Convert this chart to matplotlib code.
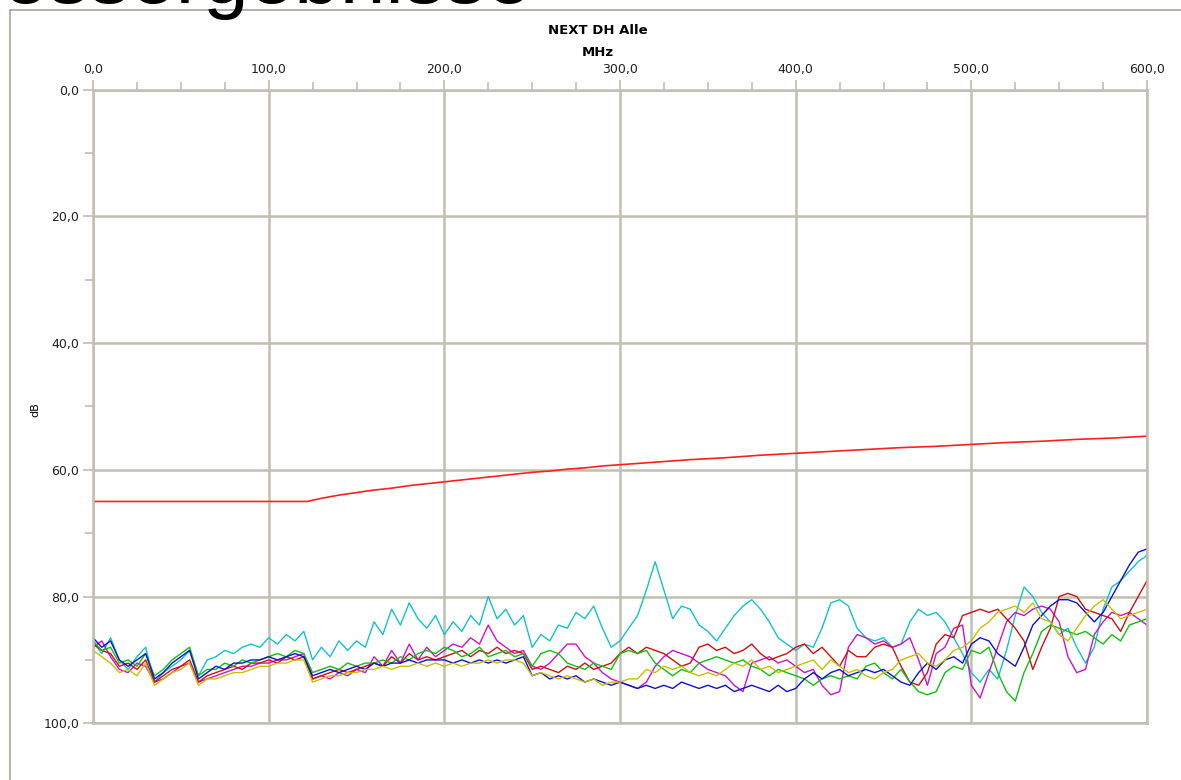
import numpy as np
import matplotlib
matplotlib.use("Agg")
import matplotlib.pyplot as plt
from matplotlib.ticker import MultipleLocator, FuncFormatter
from matplotlib.lines import Line2D

# ── data ────────────────────────────────────────────────────────────────────
freq = np.arange(0, 601, 5)   # MHz, one value every 5 MHz

cyan = [
    87, 89, 86.5, 90, 91.5, 89.5, 88, 93.5, 92, 91,
    90, 88.5, 92.5, 90, 89.5, 88.5, 89, 88, 87.5, 88,
    86.5, 87.5, 86, 87, 85.5, 90, 88, 89.5, 87, 88.5,
    87, 88, 84, 86, 82, 84.5, 81, 83.5, 85, 83,
    86, 84, 85.5, 83, 84.5, 80, 83.5, 82, 84.5, 83,
    88, 86, 87, 84.5, 85, 82.5, 83.5, 81.5, 85, 88,
    87, 85, 83, 79, 74.5, 79, 83.5, 81.5, 82, 84.5,
    85.5, 87, 85, 83, 81.5, 80.5, 82, 84, 86.5, 87.5,
    88.5, 87.5, 88, 85, 81, 80.5, 81.5, 85, 86.5, 87,
    86.5, 88, 87.5, 84, 82, 83, 82.5, 84, 86.5, 89,
    92, 93.5, 91.5, 93, 88.5, 83, 78.5, 80, 82.5, 84,
    86, 85, 88, 90.5, 88, 82, 78.5, 77.5, 76, 74.5,
    73.5,
]
blue = [
    86.5, 88, 87, 90, 91, 90, 89, 93, 92, 90.5,
    89.5, 88.5, 93, 92, 91, 91.5, 90.5, 90.5, 90, 90,
    89.5, 90, 89.5, 89, 89.5, 92.5, 92, 91.5, 92, 91.5,
    91, 91.5, 90.5, 91, 90.5, 90.5, 90, 90.5, 90, 90,
    90, 90.5, 90, 90.5, 90, 90.5, 90, 90.5, 90, 89.5,
    92.5, 92, 93, 92.5, 93, 92.5, 93.5, 93, 93.5, 94,
    93.5, 94, 94.5, 94, 94.5, 94, 94.5, 93.5, 94, 94.5,
    94, 94.5, 94, 95, 94.5, 94, 94.5, 95, 94, 95,
    94.5, 93, 92, 93, 92, 91.5, 92.5, 92, 91.5, 92,
    91.5, 92.5, 93.5, 94, 92, 90.5, 91.5, 90, 89.5, 90.5,
    87.5, 86.5, 87, 89, 90, 91, 88, 84.5, 83, 81.5,
    80.5, 80.5, 81, 82.5, 84, 82.5, 80, 77.5, 75, 73,
    72.5,
]
red = [
    87.5, 88.5, 89, 91, 90.5, 91.5, 90, 93.5, 92.5, 91.5,
    91, 90, 93.5, 92.5, 92, 91.5, 91, 91.5, 90.5, 90.5,
    90, 90.5, 89.5, 90, 89.5, 93, 92.5, 92, 91.5, 92,
    91.5, 91, 90.5, 91, 89.5, 90.5, 89, 90, 89.5, 90,
    89.5, 89, 88.5, 89.5, 88.5, 89, 88, 89, 88.5, 89,
    91.5, 91, 91.5, 92, 91, 91.5, 90.5, 91.5, 91, 90.5,
    89, 88, 89, 88, 88.5, 89, 90, 91, 90.5, 88,
    87.5, 88.5, 88, 89, 88.5, 87.5, 89, 90, 89.5, 89,
    88, 87.5, 89, 88, 89.5, 91, 88.5, 89.5, 89.5, 88,
    87.5, 88, 91, 93.5, 94, 92, 87.5, 86, 86.5, 83,
    82.5, 82, 82.5, 82, 83.5, 85, 87, 91.5, 88, 85,
    80, 79.5, 80, 82, 82.5, 83, 83.5, 85.5, 82.5, 80,
    77.5,
]
magenta = [
    88, 87, 89.5, 91.5, 92, 90.5, 91, 93.5, 93, 92,
    91, 90.5, 93.5, 93, 92.5, 92, 91.5, 91, 91, 90.5,
    90.5, 90, 90, 89.5, 89, 93, 92.5, 93, 92, 92.5,
    91.5, 92, 89.5, 91, 88.5, 90.5, 87.5, 90, 88, 89.5,
    88.5, 87.5, 88, 86.5, 87.5, 84.5, 87, 88, 89, 88.5,
    91, 91.5, 90.5, 89, 87.5, 87.5, 89.5, 90.5, 92, 93,
    93.5, 94, 94.5, 93.5, 91, 89.5, 88.5, 89, 89.5, 90.5,
    91.5, 92, 92.5, 94, 95, 90.5, 90, 89.5, 90.5, 90,
    91, 92, 91.5, 94, 95.5, 95, 88, 86, 86.5, 87.5,
    87, 88, 87.5, 86.5, 90, 94, 89, 88, 85, 84.5,
    94, 96, 92, 88, 84, 82.5, 83, 82, 81.5, 82,
    84, 89.5, 92, 91.5, 86, 84, 82.5, 83, 82.5, 83.5,
    84.5,
]
green = [
    87, 88.5, 88, 90.5, 90, 91, 89, 92.5, 91.5, 90,
    89, 88, 92.5, 91.5, 91.5, 90.5, 91, 90, 90.5, 90,
    89.5, 89, 89.5, 88.5, 89, 92, 91.5, 91, 91.5, 90.5,
    91, 90.5, 90.5, 90, 90.5, 89.5, 90, 89, 88.5, 89,
    88, 88.5, 89.5, 89, 88, 89.5, 89, 88.5, 89.5, 89,
    91, 89, 88.5, 89, 90.5, 91, 91.5, 90.5, 91, 91.5,
    89, 88.5, 89, 88.5, 90.5, 91.5, 92.5, 91.5, 92, 90.5,
    90, 89.5, 90, 90.5, 90, 91, 91.5, 92.5, 91.5, 92,
    92.5, 93, 94, 93, 92.5, 93, 92.5, 93, 91, 90.5,
    92, 93, 91.5, 93.5, 95, 95.5, 95, 92, 91, 91.5,
    88.5, 89, 88, 92, 95, 96.5, 92, 89, 85.5, 84.5,
    85, 85.5, 86, 85.5, 86.5, 87.5, 86, 87, 84.5, 84,
    83.5,
]
yellow = [
    88.5, 89.5, 90.5, 92, 91.5, 92.5, 90.5, 94, 93, 92,
    91.5, 90.5, 94, 93, 93, 92.5, 92, 92, 91.5, 91,
    91, 90.5, 90.5, 90, 90, 93.5, 93, 92.5, 92.5, 92,
    92, 91.5, 91.5, 91, 91.5, 91, 91, 90.5, 91, 90.5,
    91, 90.5, 91, 90.5, 90.5, 90, 90.5, 90, 90, 90.5,
    92.5, 92, 92.5, 93, 92.5, 93, 93.5, 93, 94, 93.5,
    93.5, 93, 93, 91.5, 92, 91, 91.5, 91, 92, 92.5,
    92, 92.5, 91.5, 90.5, 91, 90, 91.5, 91, 92, 91.5,
    91, 90.5, 90, 91.5, 90, 91, 92, 91.5, 92.5, 93,
    92, 91.5, 90, 89.5, 89, 90.5, 91, 90, 88.5, 88,
    87, 85, 84, 82.5, 82, 81.5, 82.5, 81, 83.5, 84,
    86, 87, 85, 83, 81.5, 80.5, 82, 83.5, 83, 82.5,
    82,
]

# limit line
limit_f = [0, 122, 130, 140, 150, 160, 170, 180, 190, 200, 210, 220, 230,
           240, 250, 260, 270, 280, 290, 300, 320, 340, 360, 380, 400, 420,
           440, 460, 480, 500, 520, 540, 560, 580, 600]
limit_db = [65.0, 65.0, 64.5, 64.0, 63.6, 63.2, 62.9, 62.5, 62.2, 61.9,
            61.6, 61.3, 61.0, 60.7, 60.4, 60.2, 59.9, 59.7, 59.4, 59.2,
            58.8, 58.4, 58.1, 57.7, 57.4, 57.1, 56.8, 56.5, 56.3, 56.0,
            55.7, 55.5, 55.2, 55.0, 54.7]

series = [
    (cyan, "#10c4c8"),
    (magenta, "#d010d0"),
    (red, "#d01010"),
    (green, "#10c010"),
    (blue, "#1010d0"),
    (yellow, "#c8c000"),
]

GRID = "#c2beb2"
comma = FuncFormatter(lambda v, _: f"{v:.1f}".replace(".", ","))

# ── figure ──────────────────────────────────────────────────────────────────
fig = plt.figure(figsize=(11.81, 7.80), dpi=100)
fig.patch.set_facecolor("white")

# outer frame and the heading that the screenshot cuts off
fig.add_artist(Line2D([10 / 1181, 10 / 1181], [0, 1 - 10 / 780],
                      transform=fig.transFigure, color="#a8a49a", lw=1.2))
fig.add_artist(Line2D([10 / 1181, 1], [1 - 10 / 780, 1 - 10 / 780],
                      transform=fig.transFigure, color="#a8a49a", lw=1.2))
fig.text(-66 / 1181, 1 - 3 / 780, "Messergebnisse", fontsize=59,
         family="Liberation Sans", va="baseline", ha="left", color="black")

ax = fig.add_axes([93 / 1181, 1 - 723.3 / 780, (1147 - 93) / 1181,
                   (723.3 - 89.5) / 780])

for vals, col in series:
    ax.plot(freq, vals, color=col, lw=1.0)
ax.plot(limit_f, limit_db, color="#ff2020", lw=1.2)

ax.set_xlim(0, 600)
ax.set_ylim(100, 0)
ax.xaxis.tick_top()
ax.xaxis.set_major_locator(MultipleLocator(100))
ax.xaxis.set_minor_locator(MultipleLocator(25))
ax.yaxis.set_major_locator(MultipleLocator(20))
ax.yaxis.set_minor_locator(MultipleLocator(10))
ax.xaxis.set_major_formatter(comma)
ax.yaxis.set_major_formatter(comma)
ax.tick_params(which="both", direction="out", color=GRID, width=1.2,
               labelsize=9, labelcolor="#202020")
ax.tick_params(which="major", length=7, pad=3)
ax.tick_params(which="minor", length=6)
ax.grid(True, which="major", color=GRID, lw=1.8)
ax.set_axisbelow(True)
for sp in ax.spines.values():
    sp.set_color(GRID)
    sp.set_linewidth(1.8)

fig.text(598 / 1181, 1 - 30 / 780, "NEXT DH Alle", ha="center", va="center",
         fontsize=9.5, fontweight="bold")
fig.text(598 / 1181, 1 - 52 / 780, "MHz", ha="center", va="center",
         fontsize=9.5, fontweight="bold")
fig.text(35 / 1181, 1 - 410 / 780, "dB", rotation=90, ha="center",
         va="center", fontsize=8)

fig.savefig("out.png", dpi=100, facecolor="white")
